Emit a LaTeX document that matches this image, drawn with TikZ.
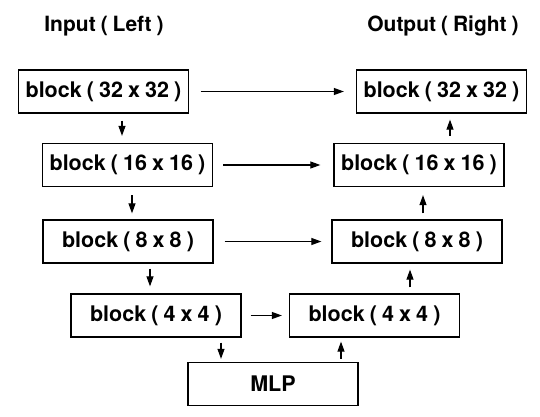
\documentclass[tikz,border=0pt]{standalone}
\usepackage{fontspec}
\setmainfont[WordSpace=0.85]{TeX Gyre Heros}
\usetikzlibrary{arrows.meta}
\begin{document}
\begin{tikzpicture}[x=1pt,y=-1pt,
  stage/.style={draw=black, line width=1.3pt, minimum width=170pt, minimum height=43pt,
    inner sep=0pt, font=\fontsize{21.5}{25}\selectfont\bfseries},
  heading/.style={font=\fontsize{21}{25}\selectfont\bfseries},
  arr/.style={line width=1.1pt, -{Triangle[length=10pt,width=7pt]}}]
\useasboundingbox (0,0) rectangle (540,417);

% column headings
\node[heading] (tin)  at (104,26) {Input ( Left )};
\node[heading] (tout) at (443,26) {Output ( Right )};

% encoder side
\node[stage] (L32) at (103.5,91.5) {block ( 32 x 32 )};
\node[stage] (L16) at (127.5,165)  {block ( 16 x 16 )};
\node[stage] (L8)  at (128,241.5)  {block ( 8 x 8 )};
\node[stage] (L4)  at (156,315.5)  {block ( 4 x 4 )};

% bottleneck
\node[stage] (mlp) at (273,384) {MLP};

% decoder side
\node[stage] (R4)  at (374.5,315.5) {block ( 4 x 4 )};
\node[stage] (R8)  at (417,241.5)   {block ( 8 x 8 )};
\node[stage] (R16) at (419,165)     {block ( 16 x 16 )};
\node[stage] (R32) at (441.5,91.5)  {block ( 32 x 32 )};

% skip connections
\draw[arr, shorten <=11.5pt, shorten >=12pt] (L32) -- (R32);
\draw[arr, shorten <=10pt, shorten >=13pt] (L16) -- (R16);
\draw[arr, shorten <=11pt, shorten >=10pt] (L8) -- (R8);
\draw[arr, shorten <=9pt, shorten >=7pt] (L4) -- (R4);

% downward path
\draw[arr, shorten <=7pt, shorten >=7pt] ([xshift=18.5pt]L32.south) -- ([xshift=18.5pt]L32.south |- L16.north);
\draw[arr, shorten <=8pt, shorten >=6pt] ([xshift=4.5pt]L16.south) -- ([xshift=4.5pt]L16.south |- L8.north);
\draw[arr, shorten <=5pt, shorten >=7pt] ([xshift=22pt]L8.south) -- ([xshift=22pt]L8.south |- L4.north);
\draw[arr, shorten <=5pt, shorten >=3pt] ([xshift=65pt]L4.south) -- ([xshift=65pt]L4.south |- mlp.north);

% upward path
\draw[arr, shorten <=3pt, shorten >=4pt] ([xshift=68pt]mlp.north) -- ([xshift=68pt]mlp.north |- R4.south);
\draw[arr, shorten <=6pt, shorten >=6pt] ([xshift=35.5pt]R4.north) -- ([xshift=35.5pt]R4.north |- R8.south);
\draw[arr, shorten <=6pt, shorten >=8pt] ([xshift=6pt]R8.north) -- ([xshift=6pt]R8.north |- R16.south);
\draw[arr, shorten <=7pt, shorten >=6pt] ([xshift=31pt]R16.north) -- ([xshift=31pt]R16.north |- R32.south);
\end{tikzpicture}
\end{document}
